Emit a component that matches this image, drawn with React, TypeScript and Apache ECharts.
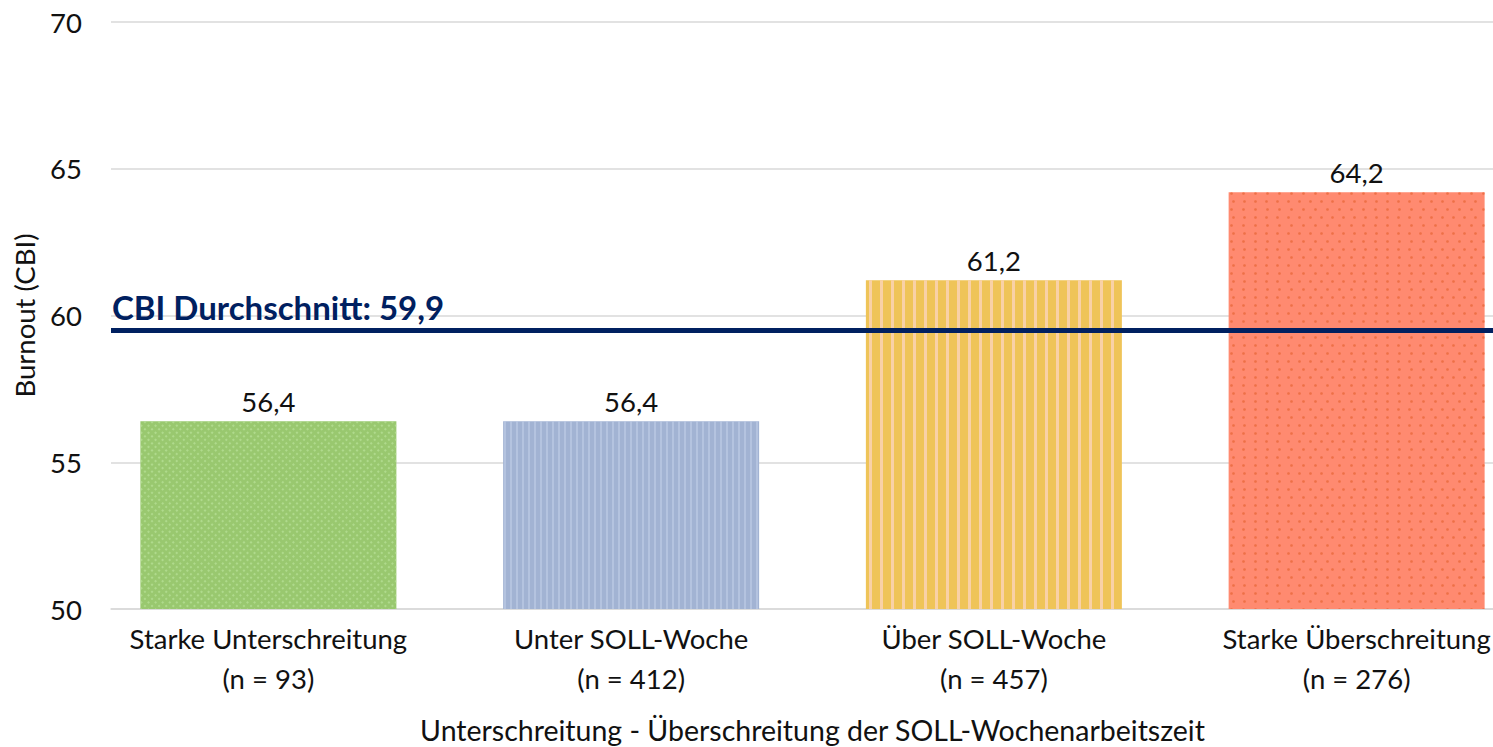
import React, { useEffect, useRef } from "react";
import * as echarts from "echarts";

const categories = [
  "Starke Unterschreitung\n(n = 93)",
  "Unter SOLL-Woche\n(n = 412)",
  "Über SOLL-Woche\n(n = 457)",
  "Starke Überschreitung\n(n = 276)",
];
const values = [56.4, 56.4, 61.2, 64.2];
const barColors = ["#99C86F", "#A2B3D3", "#EFC458", "#FF8A70"];
const averageLineValue = 59.5;
const averageLabel = "CBI Durchschnitt: 59,9";
const yTicks = { min: 50, max: 70, interval: 5 };

const FONT = "Lato, 'Noto Sans', sans-serif";
const FS = 27.5;

export default function App() {
  const ref = useRef<HTMLDivElement>(null);
  useEffect(() => {
    document.body.style.margin = "0";
    const chart = echarts.init(ref.current!, undefined, { renderer: "svg" });
    const decals = [
      {
        symbol: "rect",
        color: "rgba(190,230,160,0.6)",
        dashArrayX: [2, 3],
        dashArrayY: [2, 3],
        rotation: Math.PI / 4,
        symbolSize: 1,
      },
      {
        symbol: "rect",
        color: "rgba(195,208,232,0.55)",
        dashArrayX: [1.5, 3.5],
        dashArrayY: [1, 0],
        symbolSize: 1,
      },
      {
        symbol: "rect",
        color: "rgba(250,212,180,0.85)",
        dashArrayX: [3, 8],
        dashArrayY: [1, 0],
        symbolSize: 1,
      },
      {
        symbol: "circle",
        color: "#EE7046",
        dashArrayX: [
          [3, 8],
          [0, 5.5, 3, 2.5],
        ],
        dashArrayY: [3, 5],
        symbolSize: 0.9,
      },
    ];
    const gridLines = "#D9D9D9";
    chart.setOption({
      animation: false,
      aria: { enabled: true, decal: { show: true } },
      grid: [
        { left: 87, width: 1451, top: 22, bottom: 138, outerBoundsMode: "none" },
        { left: 111, right: 0, top: 22, bottom: 138, outerBoundsMode: "none" },
      ],
      xAxis: [
        {
          type: "category",
          gridIndex: 0,
          data: categories,
          axisTick: { show: false },
          axisLine: { show: false },
          axisLabel: {
            color: "#111",
            fontSize: FS,
            fontFamily: FONT,
            lineHeight: 40,
            margin: 9,
          },
          name: "Unterschreitung - Überschreitung der SOLL-Wochenarbeitszeit",
          nameLocation: "middle",
          nameGap: 106,
          nameTextStyle: { color: "#111", fontSize: FS + 1, fontFamily: FONT },
        },
        {
          type: "category",
          gridIndex: 1,
          data: categories,
          axisTick: { show: false },
          axisLabel: { show: false },
          axisLine: { show: true, lineStyle: { color: gridLines, width: 1.5 } },
        },
      ],
      yAxis: [
        {
          type: "value",
          gridIndex: 0,
          min: yTicks.min,
          max: yTicks.max,
          interval: yTicks.interval,
          axisLine: { show: false },
          axisTick: { show: false },
          splitLine: { show: false },
          axisLabel: {
            color: "#111",
            fontSize: FS,
            fontFamily: FONT,
            margin: 5,
          },
          name: "Burnout (CBI)",
          nameLocation: "middle",
          nameGap: 49,
          nameTextStyle: { color: "#111", fontSize: FS, fontFamily: FONT },
        },
        {
          type: "value",
          gridIndex: 1,
          min: yTicks.min,
          max: yTicks.max,
          interval: yTicks.interval,
          axisLine: { show: false },
          axisTick: { show: false },
          axisLabel: { show: false },
          splitLine: { lineStyle: { color: gridLines, width: 1.5 } },
        },
      ],
      series: [
        {
          type: "bar",
          xAxisIndex: 0,
          yAxisIndex: 0,
          barWidth: 256,
          z: 3,
          data: values.map((v, i) => ({
            value: v,
            itemStyle: { color: barColors[i], decal: decals[i] },
          })),
          label: {
            show: true,
            position: "top",
            distance: 6,
            color: "#111",
            fontSize: FS,
            fontFamily: FONT,
            formatter: (p: any) => String(p.value).replace(".", ","),
          },
        },
        {
          type: "line",
          xAxisIndex: 1,
          yAxisIndex: 1,
          data: [],
          z: 5,
          markLine: {
            silent: true,
            symbol: "none",
            z: 5,
            lineStyle: { color: "#002060", width: 5, type: "solid" },
            data: [{ yAxis: averageLineValue }],
            label: {
              show: true,
              position: "insideStartTop",
              distance: [1, 7],
              formatter: averageLabel,
              color: "#002060",
              fontSize: 33,
              fontWeight: "bold",
              fontFamily: FONT,
            },
          },
        },
      ],
    });
    return () => chart.dispose();
  }, []);
  return (
    <div
      ref={ref}
      style={{ position: "absolute", left: 0, top: 0, width: 1493, height: 747 }}
    />
  );
}
